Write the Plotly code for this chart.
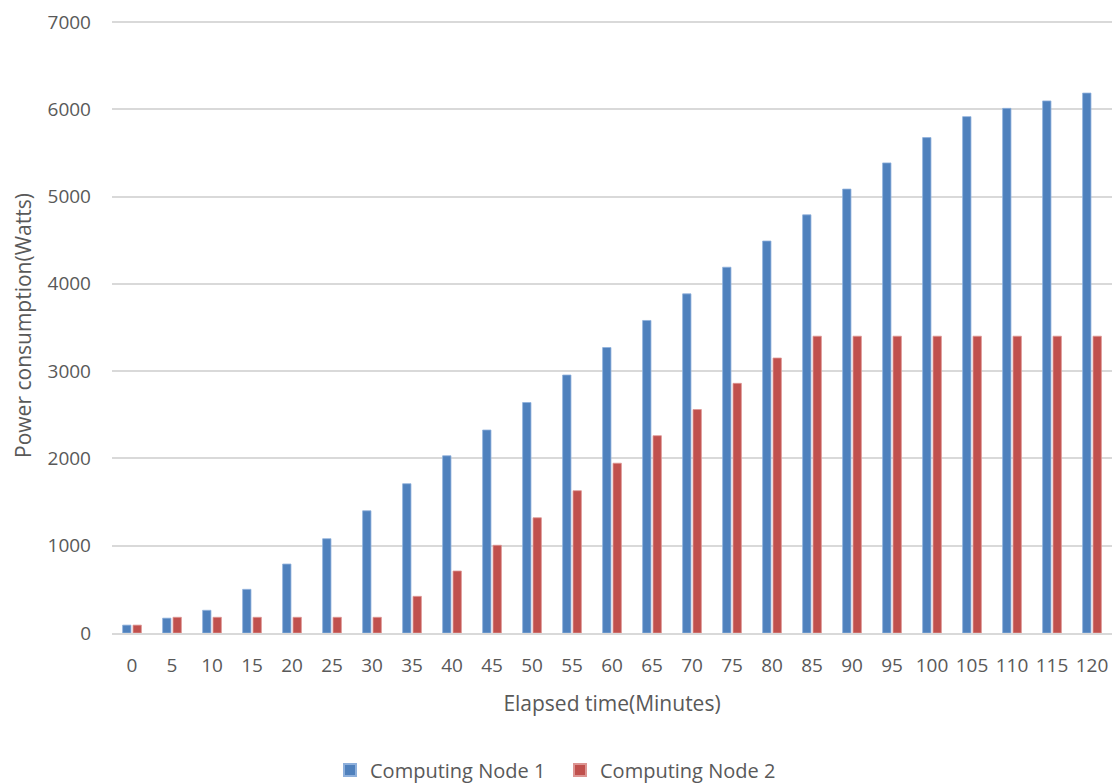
import plotly.graph_objects as go

minutes = ["0", "5", "10", "15", "20", "25", "30", "35", "40", "45", "50", "55", "60",
           "65", "70", "75", "80", "85", "90", "95", "100", "105", "110", "115", "120"]
node1 = [90, 170, 260, 500, 790, 1080, 1400, 1710, 2030, 2325, 2640, 2955, 3270,
         3580, 3885, 4190, 4490, 4790, 5085, 5385, 5675, 5915, 6010, 6095, 6185]
node2 = [90, 180, 180, 180, 180, 180, 180, 420, 710, 1005, 1320, 1630, 1945,
         2260, 2560, 2860, 3150, 3400, 3400, 3400, 3400, 3400, 3400, 3400, 3400]

text_color = "#595959"
grid_color = "#d9d9d9"

fig = go.Figure()
fig.add_trace(go.Bar(
    x=minutes, y=node1, name="Computing Node 1",
    marker=dict(color="#4f81bd", line=dict(color="#8eb0dc", width=0.8)),
))
fig.add_trace(go.Bar(
    x=minutes, y=node2, name="Computing Node 2",
    marker=dict(color="#c0504d", line=dict(color="#dd9593", width=0.8)),
))

fig.update_layout(
    width=1120, height=784,
    margin=dict(l=112, r=8, t=18, b=151),
    paper_bgcolor="white", plot_bgcolor="white",
    barmode="group", bargap=0.48, bargroupgap=0.2,
    font=dict(family="Open Sans, Liberation Sans, sans-serif", size=19, color=text_color),
    showlegend=True,
    legend=dict(orientation="h", xref="container", yref="container",
                x=0.5, xanchor="center", y=(784 - 770) / 784, yanchor="middle",
                font=dict(size=20, color=text_color), traceorder="normal",
                itemsizing="constant", entrywidth=185, entrywidthmode="pixels"),
)

fig.update_xaxes(
    type="category", automargin=False,
    title=dict(text="Elapsed time(Minutes)", font=dict(size=21, color=text_color), standoff=20),
    tickfont=dict(size=19, color=text_color),
    showgrid=False, showline=True, linecolor=grid_color, linewidth=2,
    ticks="", ticklabelstandoff=14,
)
fig.update_yaxes(
    range=[0, 7045], automargin=False,
    tickvals=[0, 1000, 2000, 3000, 4000, 5000, 6000, 7000],
    title=dict(text="Power consumption(Watts)", font=dict(size=21, color=text_color), standoff=10),
    tickfont=dict(size=19, color=text_color),
    showgrid=True, gridcolor=grid_color, gridwidth=1.5,
    zeroline=False, showline=False, ticks="", ticklabelstandoff=20,
)

fig.write_html("out.html")
